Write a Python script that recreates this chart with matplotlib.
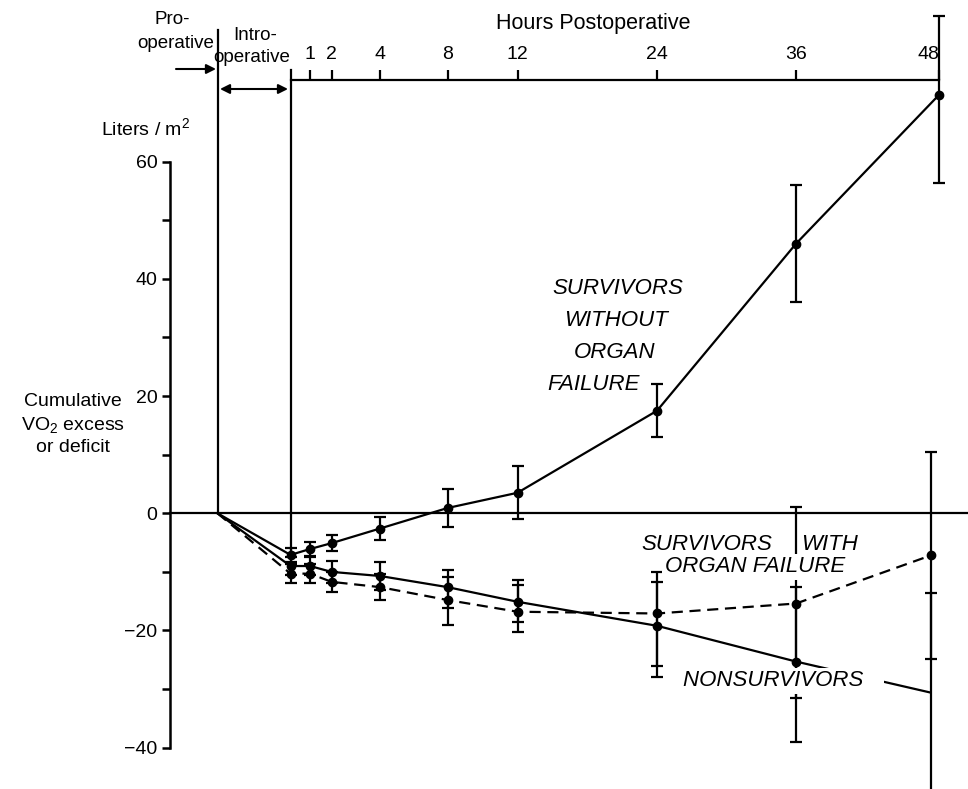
import numpy as np
import matplotlib
matplotlib.use('Agg')
import matplotlib.pyplot as plt
from matplotlib.ticker import NullLocator

plt.rcParams['font.family'] = ['Liberation Sans', 'DejaVu Sans']
plt.rcParams['mathtext.default'] = 'regular'

# hours postoperative; -3 stands for the start of the operation
hours = [-3, 0, 1, 2, 4, 8, 12, 24, 36, 48]
hours_late = [-3, 0, 1, 2, 4, 8, 12, 24, 36, 47.3]
tick_hours = [1, 2, 4, 8, 12, 24, 36, 48]

# survivors without organ failure
surv_ok = [0, -7.1, -6.1, -5.1, -2.6, 0.9, 3.5, 17.5, 46.0, 71.4]
surv_ok_lo = [0, 1.2, 1.2, 1.4, 2.0, 3.2, 4.5, 4.5, 10.0, 15.0]
surv_ok_hi = [0, 1.2, 1.2, 1.4, 2.0, 3.2, 4.5, 4.5, 10.0, 13.5]

# survivors with organ failure (dashed)
surv_of = [0, -10.3, -10.3, -11.7, -12.6, -14.8, -16.8, -17.1, -15.4, -7.2]
surv_of_lo = [0, 1.6, 1.6, 1.7, 2.2, 4.3, 3.4, 9.0, 16.2, 17.6]
surv_of_hi = [0, 1.6, 1.6, 1.7, 2.2, 4.0, 4.6, 5.4, 16.5, 17.7]

# nonsurvivors
nonsurv = [0, -9.0, -9.0, -10.0, -10.7, -12.6, -15.1, -19.2, -25.3, -30.6]
nonsurv_lo = [0, 1.5, 1.5, 1.9, 2.4, 3.6, 3.4, 8.8, 13.7, 17.0]
nonsurv_hi = [0, 1.5, 1.5, 1.9, 2.4, 2.9, 3.7, 9.2, 12.8, 17.0]

# uneven hand-drawn time axis: hour -> horizontal pixel
h_knots = [-12, -3, 0, 1, 2, 4, 8, 12, 24, 36, 48, 50.5]
p_knots = [0, 217.5, 290.5, 310, 331.5, 380, 447.5, 517.5, 657, 796, 939, 968]

def fwd(h):
    return np.interp(h, h_knots, p_knots)

def inv(p):
    return np.interp(p, p_knots, h_knots)

W, H = 968, 789
fig = plt.figure(figsize=(W / 100, H / 100), dpi=100)
ax = fig.add_axes([0, 0, 1, 1])
ax.set_xscale('function', functions=(fwd, inv))
ax.set_xlim(-12, 50.5)
ax.set_ylim(-47.05, 87.59)

LW = 1.6
y_top = 73.94

for s in ['right', 'bottom']:
    ax.spines[s].set_visible(False)
ax.spines['left'].set_position(('axes', 170 / W))
ax.spines['left'].set_bounds(-40, 60)
ax.spines['left'].set_linewidth(1.8)
ax.spines['top'].set_position(('data', y_top))
ax.spines['top'].set_bounds(0, 48)
ax.spines['top'].set_linewidth(LW)

ax.yaxis.set_ticks_position('left')
ax.set_yticks([-40, -20, 0, 20, 40, 60])
ax.set_yticks([-30, -10, 10, 30, 50], minor=True)
ax.tick_params(axis='y', which='both', direction='out', length=6,
               width=1.8, labelsize=14, pad=3)

ax.xaxis.set_ticks_position('top')
ax.set_xticks(tick_hours, labels=[str(h) for h in tick_hours])
ax.xaxis.set_minor_locator(NullLocator())
ax.tick_params(axis='x', direction='out', length=7, width=LW,
               labelsize=14, pad=5)
# the last hour label sits left of the 48 h error bar
ax.get_xticklabels()[-1].set_horizontalalignment('right')

ax.axhline(0, xmin=170 / W, xmax=1, color='k', lw=LW, zorder=2)
ax.plot([-3, -3], [0, 82.5], color='k', lw=LW)
ax.plot([0, 0], [surv_ok[1], 75.65], color='k', lw=LW)


def draw(x, y, lo, hi, ls, n_marks):
    ax.plot(x, y, color='k', lw=LW, ls=ls, zorder=3)
    ax.errorbar(x[1:], y[1:], yerr=[lo[1:], hi[1:]], fmt='none', ecolor='k',
                elinewidth=LW, capsize=4, capthick=LW, zorder=3)
    ax.plot(x[1:n_marks], y[1:n_marks], 'o', color='k', ms=6, zorder=4)


draw(hours, surv_ok, surv_ok_lo, surv_ok_hi, '-', 10)
draw(hours_late, surv_of, surv_of_lo, surv_of_hi, (0, (5, 3)), 10)
draw(hours_late, nonsurv, nonsurv_lo, nonsurv_hi, '-', 9)


def fp(x, y):
    return (x, H - y)


def label(s, x, y, ha='center', size=14, style='normal', pad=None):
    kw = dict(xycoords='figure pixels', ha=ha, va='center', fontsize=size,
              style=style, zorder=5)
    if pad is not None:
        kw['bbox'] = dict(facecolor='white', edgecolor='none', pad=pad)
    ax.annotate(s, xy=fp(x, y), **kw)


label('Hours Postoperative', 593, 24, size=15.5)
label('Pro-', 172, 20, size=13.5)
label('operative', 176, 43, size=13.5)
label('Intro-', 255, 35, size=13.5)
label('operative', 252, 57, size=13.5)
label('Liters / m$^2$', 101, 128, ha='left', size=14)
label('Cumulative', 73, 402, size=14)
label('VO$_2$ excess', 73, 425, size=14)
label('or deficit', 73, 448, size=14)

label('SURVIVORS', 552, 289, ha='left', size=16, style='italic')
label('WITHOUT', 564, 321, ha='left', size=16, style='italic')
label('ORGAN', 574, 353, ha='left', size=16, style='italic')
label('FAILURE', 547, 385, ha='left', size=16, style='italic')

label('SURVIVORS', 641, 544, ha='left', size=16, style='italic', pad=2)
label('WITH', 801, 545, ha='left', size=16, style='italic', pad=2)
label('ORGAN FAILURE', 665, 567, ha='left', size=16, style='italic', pad=2)
label('NONSURVIVORS   ', 683, 681, ha='left', size=16, style='italic', pad=2)

arrow = dict(color='k', lw=1.5, mutation_scale=14, shrinkA=0, shrinkB=0)
ax.annotate('', xy=fp(216, 69), xytext=fp(176, 69), xycoords='figure pixels',
            arrowprops=dict(arrowstyle='-|>', **arrow))
ax.annotate('', xy=fp(288, 89), xytext=fp(220, 89), xycoords='figure pixels',
            arrowprops=dict(arrowstyle='<|-|>', **arrow))

fig.savefig('out.png', dpi=100)
